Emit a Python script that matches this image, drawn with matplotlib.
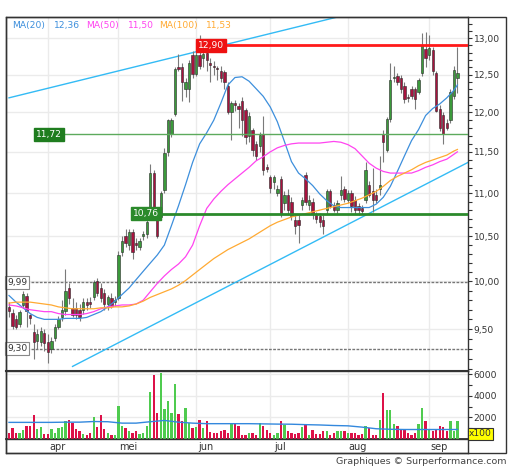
import numpy as np
import pandas as pd
import matplotlib
matplotlib.use('Agg')
import matplotlib.pyplot as plt
from matplotlib.patches import Rectangle
from matplotlib.ticker import FixedLocator, FuncFormatter, NullFormatter, NullLocator

# trading days (Euronext calendar)
dates = pd.bdate_range('2018-03-15', '2018-09-13', freq='C',
                       holidays=['2018-03-30', '2018-04-02', '2018-05-01'])
month_names = {4: 'apr', 5: 'mei', 6: 'jun', 7: 'jul', 8: 'aug', 9: 'sep'}

opens = [9.73, 9.67, 9.60, 9.55, 9.75, 9.85, 9.64, 9.47, 9.38, 9.37,
         9.46, 9.37, 9.30, 9.41, 9.52, 9.62, 9.69, 9.93, 9.72, 9.72,
         9.70, 9.70, 9.78, 9.78, 9.83, 10.00, 9.93, 9.88, 9.76, 9.82,
         9.78, 9.82, 10.32, 10.50, 10.40, 10.55, 10.42, 10.38, 10.50, 10.52,
         10.72, 11.24, 10.78, 10.72, 11.04, 11.50, 11.73, 11.98, 12.60, 12.60,
         12.30, 12.30, 12.77, 12.51, 12.77, 12.72, 12.80, 12.65, 12.62, 12.58,
         12.55, 12.53, 12.35, 12.00, 12.12, 12.08, 12.15, 12.03, 11.70, 11.77,
         11.60, 11.57, 11.73, 11.31, 11.19, 11.13, 11.00, 11.17, 10.88, 10.98,
         10.90, 10.69, 10.69, 10.86, 11.22, 10.86, 10.90, 10.74, 10.73, 10.69,
         10.80, 11.02, 10.86, 10.80, 10.98, 11.05, 10.92, 11.00, 10.92, 10.85,
         10.82, 10.92, 11.10, 11.02, 10.98, 11.05, 11.72, 11.52, 11.91, 12.45,
         12.48, 12.46, 12.35, 12.20, 12.30, 12.30, 12.27, 12.52, 12.85, 12.76,
         12.84, 12.52, 12.05, 11.97, 11.86, 11.90, 12.22, 12.45]
highs = [9.78, 9.71, 9.64, 9.70, 9.90, 9.88, 9.66, 9.55, 9.50, 9.52,
         9.50, 9.45, 9.42, 9.55, 9.63, 9.80, 10.14, 9.98, 9.82, 9.78,
         9.76, 9.82, 9.82, 9.83, 10.02, 10.04, 9.98, 9.92, 9.86, 9.88,
         9.84, 10.33, 10.50, 10.58, 10.58, 10.58, 10.48, 10.48, 10.56, 10.70,
         11.35, 11.28, 10.82, 11.02, 11.55, 11.92, 11.93, 12.60, 12.78, 12.65,
         12.45, 12.70, 12.82, 12.95, 13.04, 12.85, 12.84, 12.72, 12.68, 12.62,
         12.62, 12.56, 12.40, 12.15, 12.16, 12.12, 12.20, 12.06, 12.00, 11.80,
         11.64, 11.75, 11.95, 11.35, 11.22, 11.22, 11.10, 11.20, 11.02, 11.05,
         10.95, 10.75, 10.76, 10.95, 11.25, 10.98, 10.94, 10.78, 10.77, 10.74,
         11.05, 11.05, 10.90, 10.92, 11.20, 11.08, 11.04, 11.04, 10.96, 10.88,
         10.86, 11.38, 11.14, 11.30, 11.05, 11.45, 11.78, 11.94, 12.65, 12.62,
         12.52, 12.50, 12.40, 12.24, 12.34, 12.33, 12.46, 13.07, 13.08, 13.05,
         12.88, 12.55, 12.10, 12.00, 11.92, 12.30, 12.62, 12.87]
lows = [9.62, 9.50, 9.50, 9.52, 9.72, 9.52, 9.55, 9.20, 9.30, 9.33,
        9.28, 9.16, 9.26, 9.38, 9.50, 9.58, 9.65, 9.76, 9.62, 9.60,
        9.58, 9.66, 9.70, 9.72, 9.80, 9.85, 9.78, 9.70, 9.70, 9.72,
        9.74, 9.80, 10.28, 10.38, 10.35, 10.25, 10.35, 10.35, 10.46, 10.48,
        10.68, 10.75, 10.48, 10.68, 11.00, 11.45, 11.68, 11.95, 12.55, 12.15,
        12.20, 12.13, 12.45, 12.48, 12.58, 12.60, 12.55, 12.40, 12.50, 12.42,
        12.40, 12.30, 11.98, 11.65, 12.02, 11.80, 11.70, 11.60, 11.62, 11.45,
        11.40, 11.50, 11.22, 11.25, 11.00, 11.05, 10.96, 10.72, 10.80, 10.74,
        10.68, 10.52, 10.42, 10.80, 10.86, 10.80, 10.70, 10.65, 10.60, 10.52,
        10.76, 10.82, 10.78, 10.75, 10.92, 10.90, 10.88, 10.78, 10.76, 10.74,
        10.76, 10.88, 10.95, 10.78, 10.88, 10.98, 11.38, 11.50, 11.88, 12.40,
        12.36, 12.25, 12.12, 12.14, 12.18, 12.05, 12.24, 12.48, 12.60, 12.70,
        12.50, 12.00, 11.76, 11.60, 11.78, 11.86, 12.18, 12.25]
closes = [9.69, 9.53, 9.52, 9.68, 9.87, 9.69, 9.61, 9.37, 9.45, 9.48,
          9.36, 9.27, 9.38, 9.52, 9.60, 9.70, 9.90, 9.82, 9.65, 9.64,
          9.62, 9.78, 9.75, 9.76, 9.99, 9.88, 9.82, 9.76, 9.83, 9.74,
          9.80, 10.29, 10.45, 10.42, 10.55, 10.32, 10.40, 10.45, 10.52, 10.66,
          11.24, 10.80, 10.50, 11.00, 11.49, 11.90, 11.90, 12.57, 12.57, 12.40,
          12.40, 12.66, 12.51, 12.77, 12.62, 12.78, 12.70, 12.63, 12.60, 12.57,
          12.45, 12.40, 12.00, 12.12, 12.10, 12.04, 11.90, 11.68, 11.95, 11.52,
          11.45, 11.71, 11.28, 11.29, 11.06, 11.19, 11.05, 10.76, 10.98, 10.80,
          10.73, 10.62, 10.63, 10.92, 10.90, 10.92, 10.75, 10.70, 10.66, 10.62,
          11.02, 10.85, 10.80, 10.88, 11.04, 10.93, 11.00, 10.85, 10.80, 10.80,
          10.79, 11.28, 10.98, 10.92, 10.92, 11.10, 11.62, 11.91, 12.43, 12.47,
          12.40, 12.30, 12.18, 12.19, 12.22, 12.18, 12.42, 12.90, 12.72, 12.86,
          12.55, 12.02, 11.80, 11.72, 11.80, 12.27, 12.56, 12.52]
# volume in units of 100 shares
volumes = [600, 1000, 570, 600, 850, 1160, 1160, 2190, 950, 1100,
           500, 460, 950, 600, 1000, 1100, 1630, 1780, 1470, 950,
           740, 500, 400, 600, 2000, 1130, 2190, 950, 570, 400,
           340, 3020, 1160, 1000, 775, 600, 775, 460, 570, 1160,
           4330, 5900, 2400, 6100, 2760, 3490, 2400, 5060, 2340, 1690,
           2830, 1470, 1000, 1100, 1780, 1000, 1630, 630, 570, 570,
           740, 880, 600, 1400, 1400, 1160, 400, 400, 600, 600,
           400, 1470, 1160, 880, 570, 400, 600, 1690, 1300, 740,
           570, 460, 570, 1100, 1300, 400, 850, 460, 460, 775,
           775, 400, 600, 740, 740, 740, 570, 570, 600, 400,
           500, 1250, 1000, 400, 400, 1780, 4230, 2700, 2700, 1400,
           1160, 950, 950, 600, 400, 600, 1400, 2830, 1690, 950,
           775, 950, 1250, 1130, 775, 1630, 775, 1700]

# moving averages, every 2nd session
ma_idx = list(range(0, 127, 2)) + [127]
ma20 = [9.85, 9.78, 9.72, 9.66, 9.62, 9.60, 9.60, 9.60, 9.61, 9.61,
        9.61, 9.62, 9.65, 9.68, 9.73, 9.79, 9.86, 9.93, 10.02, 10.11,
        10.20, 10.29, 10.40, 10.62, 10.85, 11.10, 11.37, 11.60, 11.74, 11.90,
        12.12, 12.36, 12.46, 12.47, 12.41, 12.31, 12.21, 12.07, 11.88, 11.63,
        11.38, 11.24, 11.17, 11.09, 10.99, 10.91, 10.85, 10.83, 10.83, 10.83,
        10.83, 10.83, 10.87, 10.95, 11.08, 11.26, 11.45, 11.64, 11.78, 11.96,
        12.05, 12.11, 12.19, 12.29, 12.36]
ma50 = [9.75, 9.74, 9.72, 9.70, 9.69, 9.68, 9.68, 9.66, 9.65, 9.65,
        9.65, 9.66, 9.68, 9.71, 9.73, 9.74, 9.75, 9.75, 9.76, 9.80,
        9.89, 9.98, 10.06, 10.13, 10.19, 10.27, 10.40, 10.62, 10.82, 10.93,
        11.02, 11.10, 11.17, 11.24, 11.31, 11.39, 11.44, 11.50, 11.55, 11.58,
        11.60, 11.61, 11.61, 11.61, 11.61, 11.62, 11.63, 11.62, 11.59, 11.54,
        11.45, 11.36, 11.30, 11.26, 11.24, 11.24, 11.24, 11.24, 11.27, 11.31,
        11.34, 11.38, 11.41, 11.47, 11.50]
ma100 = [9.77, 9.78, 9.78, 9.78, 9.77, 9.76, 9.75, 9.73, 9.72, 9.71,
         9.71, 9.71, 9.71, 9.72, 9.72, 9.73, 9.73, 9.74, 9.76, 9.79,
         9.83, 9.86, 9.89, 9.92, 9.96, 10.01, 10.07, 10.13, 10.19, 10.25,
         10.30, 10.35, 10.39, 10.43, 10.47, 10.52, 10.57, 10.62, 10.66, 10.69,
         10.72, 10.74, 10.76, 10.78, 10.80, 10.82, 10.84, 10.86, 10.88, 10.91,
         10.94, 10.98, 11.02, 11.08, 11.15, 11.20, 11.24, 11.28, 11.33, 11.37,
         11.40, 11.43, 11.46, 11.51, 11.53]
vol_ma_idx = list(range(0, 127, 4)) + [127]
vol_ma = [1540, 1540, 1540, 1540, 1560, 1560, 1620, 1600, 1470, 1470, 1600,
          1720, 1560, 1470, 1420, 1420, 1420, 1420, 1400, 1380, 1370, 1330,
          1300, 1250, 1220, 1100, 950, 900, 880, 880, 880, 880, 880]

# trend lines (session index, price)
upper_trend = ([0, 127], [12.19, 13.73])
lower_trend = ([18, 130], [9.125, 11.37])

# horizontal levels
resistance = 12.90
support_hi = 11.72
support_lo = 10.76
dash_levels = [9.99, 9.30]

W, H = 512, 470
fig = plt.figure(figsize=(W / 100, H / 100), dpi=100)


def px_rect(x0, y0, x1, y1):
    return [x0 / W, 1 - y1 / H, (x1 - x0) / W, (y1 - y0) / H]


ax = fig.add_axes(px_rect(6, 17, 468, 371))
axv = fig.add_axes(px_rect(6, 371, 468, 439), sharex=ax)
axm = fig.add_axes(px_rect(6, 439, 468, 453), sharex=ax)

n = len(closes)
x = np.arange(n)
o = np.array(opens)
c = np.array(closes)
up = c >= o

month_starts = [i for i in range(1, n) if dates[i].month != dates[i - 1].month]

green_body = '#3b9a3b'
red_body = '#a8123e'
grid_col = '#ebebeb'
txt_col = '#333333'

# candles
ax.vlines(x, lows, highs, color='#7a7a7a', lw=0.8, zorder=3)
bottoms = np.minimum(o, c)
heights = np.maximum(np.abs(c - o), 0.012)
ax.bar(x, heights, bottom=bottoms, width=0.66,
       color=np.where(up, green_body, red_body), edgecolor='#2a2a2a',
       linewidth=0.4, zorder=4)

# moving averages
ax.plot(ma_idx, ma20, color='#3d8fdc', lw=0.9, zorder=5)
ax.plot(ma_idx, ma50, color='#ff44f0', lw=0.9, zorder=5)
ax.plot(ma_idx, ma100, color='#ffaa33', lw=0.9, zorder=5)

# trend lines
ax.plot(*upper_trend, color='#33bbf5', lw=1.0, zorder=2)
ax.plot(*lower_trend, color='#33bbf5', lw=1.0, zorder=2)

# horizontal levels with labels
fmt = lambda v: f'{v:.2f}'.replace('.', ',')
ax.plot([53.5, 131], [resistance] * 2, color='#ff1a1a', lw=2, zorder=6)
ax.text(53.6, resistance, fmt(resistance), color='white', fontsize=6.6,
        ha='left', va='center', zorder=7,
        bbox=dict(boxstyle='square,pad=0.2', fc='#ee1111', ec='#ee1111'))
ax.plot([7.5, 131], [support_hi] * 2, color='#5caa5c', lw=1.0, zorder=6)
ax.text(7.7, support_hi, fmt(support_hi), color='white', fontsize=6.6,
        ha='left', va='center', zorder=7,
        bbox=dict(boxstyle='square,pad=0.2', fc='#1f7d1f', ec='#1f7d1f'))
ax.plot([35, 131], [support_lo] * 2, color='#2b8a2b', lw=2, zorder=6)
ax.text(35.2, support_lo, fmt(support_lo), color='white', fontsize=6.6,
        ha='left', va='center', zorder=7,
        bbox=dict(boxstyle='square,pad=0.2', fc='#2b8a2b', ec='#2b8a2b'))
for lv in dash_levels:
    ax.axhline(lv, color='#777777', lw=1, ls=(0, (2, 1)), zorder=1)
    ax.text(-0.5, lv, fmt(lv), color=txt_col, fontsize=6.6, ha='left',
            va='center', zorder=7,
            bbox=dict(boxstyle='square,pad=0.2', fc='white', ec='#888888', lw=0.8))

# price axis
ax.set_yscale('log')
ax.set_ylim(9.08, 13.30)
ax.set_xlim(-0.85, 130)
ax.yaxis.tick_right()
major = [9.5, 10.0, 10.5, 11.0, 11.5, 12.0, 12.5, 13.0]
minor = [v / 10 for v in range(91, 133) if v % 5 != 0]
ax.yaxis.set_major_locator(FixedLocator(major))
ax.yaxis.set_minor_locator(FixedLocator(minor))
ax.yaxis.set_major_formatter(FuncFormatter(lambda v, _: fmt(v)))
ax.yaxis.set_minor_formatter(NullFormatter())
ax.tick_params(axis='y', which='both', direction='out', length=3, width=0.8,
               labelsize=6.6, pad=1, colors=txt_col)
ax.tick_params(axis='x', which='both', bottom=False, labelbottom=False)
for v in major:
    ax.axhline(v, color=grid_col, lw=1, zorder=0)
for ms in month_starts:
    ax.axvline(ms, color=grid_col, lw=1, zorder=0)
    axv.axvline(ms, color=grid_col, lw=1, zorder=0)

# legend
leg = [('MA(20)', 12, '#3d8fdc'), ('12,36', 54, '#3d8fdc'),
       ('MA(50)', 86, '#ff44f0'), ('11,50', 128, '#ff44f0'),
       ('MA(100)', 159, '#ffaa33'), ('11,53', 206, '#ffaa33')]
for t, px, col in leg:
    fig.text(px / W, 1 - 25.5 / H, t, color=col, fontsize=6.6, va='center', ha='left')

# volume
vol_col = np.where(up, '#4fcb4f', '#dd1148')
axv.bar(x, volumes, width=0.66, color=vol_col, zorder=3)
axv.plot(vol_ma_idx, vol_ma, color='#3388dd', lw=1.0, zorder=4)
axv.set_ylim(0, 6300)
axv.yaxis.tick_right()
axv.yaxis.set_major_locator(FixedLocator([2000, 4000, 6000]))
axv.yaxis.set_minor_locator(FixedLocator([1000, 3000, 5000]))
axv.tick_params(axis='y', which='both', direction='out', length=3, width=0.8,
                labelsize=6.6, pad=1, colors=txt_col)
axv.tick_params(axis='x', which='both', bottom=False, labelbottom=False)
for v in [2000, 4000, 6000]:
    axv.axhline(v, color=grid_col, lw=1, zorder=0)
fig.text(469 / W, 1 - 434 / H, 'x100', fontsize=6.6, color=txt_col,
         ha='left', va='center',
         bbox=dict(boxstyle='square,pad=0.15', fc='#ffff00', ec='#333333', lw=0.8))

# month strip
axm.set_ylim(0, 1)
axm.yaxis.set_major_locator(NullLocator())
axm.tick_params(axis='x', which='both', bottom=False, labelbottom=False)
for ms in month_starts:
    axm.text(ms + 2.7, 0.45, month_names[dates[ms].month], fontsize=7,
             color=txt_col, ha='center', va='center')

for a in (ax, axv, axm):
    for s in a.spines.values():
        s.set_color('#333333')
        s.set_linewidth(1.0)
ax.spines['bottom'].set_linewidth(1.5)
axv.spines['bottom'].set_linewidth(1.3)

# outer frame
fig.add_artist(Rectangle((6 / W, 1 - 453 / H), 500 / W, 436 / H,
                         transform=fig.transFigure, fill=False,
                         ec='#333333', lw=1.0))

fig.text(506 / W, 1 - 461 / H, 'Graphiques \u00a9 Surperformance.com',
         fontsize=6.8, color='#444444', ha='right', va='center')

fig.savefig('out.png', dpi=100)
